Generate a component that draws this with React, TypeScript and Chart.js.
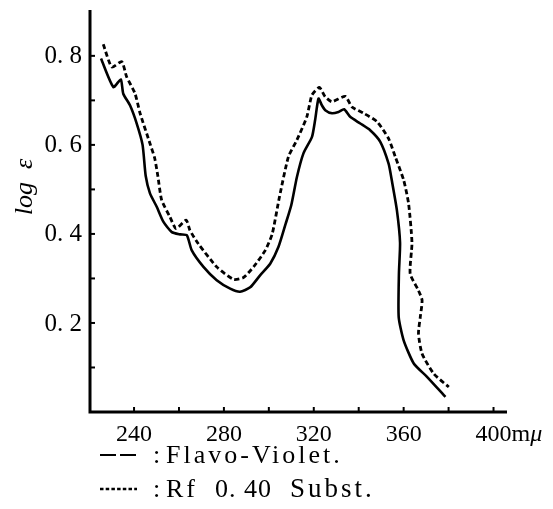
import React, { useEffect, useRef } from "react";
import { Chart, registerables } from "chart.js";

Chart.register(...registerables);

// Flavo-Violet (solid line)
const flavoWavelength = [
  225.3, 230.8, 234.1, 235.2, 238.2, 241.2, 243.8, 245.2, 247.1, 250.1, 253.1,
  256.8, 260.5, 263.5, 265.7, 270.9, 276.8, 282.8, 287.2, 291.7, 296.1, 300.6,
  304.3, 307.5, 310.0, 312.5, 315.4, 319.2, 320.6, 322.1, 323.6, 325.1, 328.1,
  331.0, 333.5, 336.2, 340.7, 345.1, 349.6, 353.3, 354.7, 357.0, 358.4, 357.9,
  357.8, 360.0, 364.5, 370.4, 378.6,
];
const flavoLogE = [
  0.794, 0.73, 0.747, 0.715, 0.689, 0.648, 0.6, 0.53, 0.491, 0.461, 0.427,
  0.404, 0.399, 0.397, 0.363, 0.326, 0.296, 0.277, 0.27, 0.28, 0.307, 0.333,
  0.371, 0.423, 0.465, 0.528, 0.581, 0.618, 0.656, 0.704, 0.689, 0.678, 0.671,
  0.674, 0.68, 0.663, 0.648, 0.633, 0.607, 0.558, 0.521, 0.453, 0.38, 0.311,
  0.213, 0.161, 0.109, 0.079, 0.034,
];

// Rf 0.40 substance (dashed line)
const substWavelength = [
  226.3, 230.1, 234.5, 236.7, 240.4, 242.7, 247.1, 249.2, 250.6, 252.3, 256.0,
  258.7, 263.2, 264.9, 268.6, 276.8, 284.2, 288.7, 293.2, 298.4, 301.5, 304.6,
  308.7, 312.5, 316.9, 319.2, 322.5, 325.1, 328.1, 334.0, 337.0, 342.2, 348.2,
  353.3, 356.3, 360.0, 362.2, 363.7, 362.9, 366.6, 368.2, 367.4, 366.6, 368.2,
  373.4, 380.1,
];
const substLogE = [
  0.826, 0.775, 0.787, 0.753, 0.716, 0.671, 0.603, 0.57, 0.53, 0.476, 0.438,
  0.412, 0.431, 0.408, 0.378, 0.326, 0.298, 0.302, 0.326, 0.363, 0.4, 0.48,
  0.573, 0.611, 0.663, 0.712, 0.729, 0.708, 0.697, 0.709, 0.685, 0.671, 0.652,
  0.614, 0.573, 0.521, 0.468, 0.38, 0.311, 0.273, 0.251, 0.213, 0.176, 0.131,
  0.086, 0.056,
];

const xTickValues = [240, 260, 280, 300, 320, 340, 360, 380, 400];
const xTickLabels = ["240", "", "280", "", "320", "", "360", "", "400"];
const xUnitLabel = ["m", "μ"];
const yTickValues = [0.1, 0.2, 0.3, 0.4, 0.5, 0.6, 0.7, 0.8];
const yTickLabels = ["", "0. 2", "", "0. 4", "", "0. 6", "", "0. 8"];
const yTitle = ["log", "ε"];
const seriesNames = ["Flavo-Violet.", "Rf 0.40 Subst."];
const legendRow1Parts = ["Flavo-Violet."];
const legendRow2Parts = ["Rf", "0. 40", "Subst."];

const SERIF = '"Liberation Serif", "DejaVu Serif", serif';

const figurePlugin = {
  id: "figure",
  afterDraw(chart: any) {
    const { ctx, chartArea: a, scales } = chart;
    const xs = scales.x;
    const ys = scales.y;
    ctx.save();
    ctx.strokeStyle = "#000";
    ctx.fillStyle = "#000";
    ctx.lineCap = "butt";

    // axes
    ctx.lineWidth = 3;
    ctx.beginPath();
    ctx.moveTo(a.left, a.top);
    ctx.lineTo(a.left, a.bottom);
    ctx.lineTo(a.right, a.bottom);
    ctx.stroke();

    // inward tick marks
    ctx.lineWidth = 2;
    yTickValues.forEach((v) => {
      const py = ys.getPixelForValue(v);
      ctx.beginPath();
      ctx.moveTo(a.left, py);
      ctx.lineTo(a.left + 5, py);
      ctx.stroke();
    });
    xTickValues.forEach((v) => {
      const px = xs.getPixelForValue(v);
      ctx.beginPath();
      ctx.moveTo(px, a.bottom);
      ctx.lineTo(px, a.bottom - 5);
      ctx.stroke();
    });

    // y tick labels
    ctx.font = `25px ${SERIF}`;
    ctx.textAlign = "right";
    ctx.textBaseline = "middle";
    yTickValues.forEach((v, i) => {
      if (!yTickLabels[i]) return;
      ctx.fillText(yTickLabels[i], a.left - 8, ys.getPixelForValue(v) + 1);
    });

    // x tick labels
    ctx.font = `24px ${SERIF}`;
    ctx.textAlign = "center";
    ctx.textBaseline = "alphabetic";
    const baseY = a.bottom + 29;
    xTickValues.forEach((v, i) => {
      if (!xTickLabels[i]) return;
      const px = xs.getPixelForValue(v);
      ctx.fillText(xTickLabels[i], px, baseY);
      if (i === xTickValues.length - 1) {
        const w = ctx.measureText(xTickLabels[i]).width;
        ctx.textAlign = "left";
        let ux = px + w / 2;
        ctx.fillText(xUnitLabel[0], ux, baseY);
        ux += ctx.measureText(xUnitLabel[0]).width;
        ctx.font = `italic 24px ${SERIF}`;
        ctx.fillText(xUnitLabel[1], ux, baseY);
      }
    });

    // y title
    ctx.save();
    ctx.translate(32, (a.top + a.bottom) / 2 - 24);
    ctx.rotate(-Math.PI / 2);
    ctx.font = `italic 26px ${SERIF}`;
    ctx.textAlign = "center";
    ctx.textBaseline = "alphabetic";
    ctx.fillText(`${yTitle[0]}  ${yTitle[1]}`, 0, 0);
    ctx.restore();

    // legend
    const rows = [a.bottom + 51, a.bottom + 85];
    rows.forEach((ry, i) => {
      ctx.save();
      ctx.lineWidth = i === 0 ? 2 : 2.5;
      ctx.setLineDash(i === 0 ? [16, 4] : [3.5, 2.2]);
      ctx.beginPath();
      ctx.moveTo(100, ry - 8);
      ctx.lineTo(137, ry - 8);
      ctx.stroke();
      ctx.restore();
      ctx.font = `26px ${SERIF}`;
      ctx.textAlign = "left";
      ctx.textBaseline = "alphabetic";
      ctx.fillText(":", 153, ry);
    });
    const c: any = ctx;
    ctx.font = `26px ${SERIF}`;
    c.letterSpacing = "3px";
    ctx.fillText(legendRow1Parts[0], 166, rows[0]);
    c.letterSpacing = "3px";
    ctx.fillText(legendRow2Parts[0], 166, rows[1]);
    c.letterSpacing = "1px";
    ctx.fillText(legendRow2Parts[1], 215, rows[1]);
    c.letterSpacing = "3px";
    ctx.font = `27px ${SERIF}`;
    ctx.fillText(legendRow2Parts[2], 290, rows[1]);
    c.letterSpacing = "0px";

    ctx.restore();
  },
};

export default function App() {
  const ref = useRef<HTMLCanvasElement | null>(null);

  useEffect(() => {
    if (!ref.current) return;
    const chart = new Chart(ref.current, {
      type: "line",
      data: {
        datasets: [
          {
            label: seriesNames[0],
            data: flavoWavelength.map((w, i) => ({ x: w, y: flavoLogE[i] })),
            borderColor: "#000",
            borderWidth: 2.6,
            pointRadius: 0,
            tension: 0.2,
            fill: false,
          },
          {
            label: seriesNames[1],
            data: substWavelength.map((w, i) => ({ x: w, y: substLogE[i] })),
            borderColor: "#000",
            borderWidth: 2.8,
            borderDash: [5, 3],
            pointRadius: 0,
            tension: 0.2,
            fill: false,
          },
        ],
      },
      options: {
        animation: false,
        responsive: false,
        devicePixelRatio: 1,
        layout: { padding: { top: 10, right: 46, left: 0, bottom: 0 } },
        plugins: {
          legend: { display: false },
          tooltip: { enabled: false },
        },
        scales: {
          x: {
            type: "linear",
            min: 220.4,
            max: 406,
            grid: { display: false },
            border: { display: false },
            ticks: { display: false },
            afterFit: (s: any) => {
              s.height = 97;
            },
          },
          y: {
            type: "linear",
            min: 0,
            max: 0.903,
            grid: { display: false },
            border: { display: false },
            ticks: { display: false },
            afterFit: (s: any) => {
              s.width = 90;
            },
          },
        },
      },
      plugins: [figurePlugin],
    });
    return () => chart.destroy();
  }, []);

  return (
    <div
      style={{
        position: "absolute",
        left: 0,
        top: 0,
        width: 553,
        height: 509,
        background: "#fff",
      }}
    >
      <canvas ref={ref} width={553} height={509} />
    </div>
  );
}
